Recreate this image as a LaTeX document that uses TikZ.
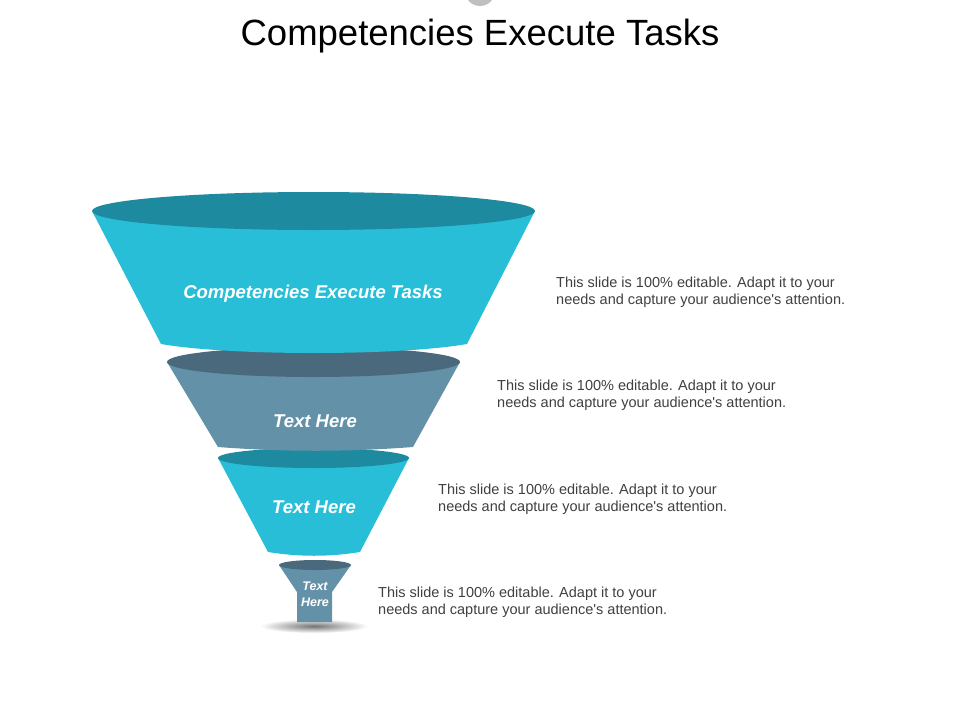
\documentclass[tikz,border=0pt]{standalone}
\usepackage{fontspec}
\setmainfont{Liberation Sans}
\definecolor{cyanbody}{HTML}{29BED8}
\definecolor{cyantop}{HTML}{1E8AA0}
\definecolor{slatebody}{HTML}{6392A8}
\definecolor{slatetop}{HTML}{4A697D}
\definecolor{desc}{HTML}{404040}
\newcommand{\desctxt}{This slide is 100\% editable. Adapt it to your\\needs and capture your audience\textquotesingle s attention.}
\begin{document}
\begin{tikzpicture}[x=1pt,y=-1pt,
  seglabel/.style={text=white,inner sep=0pt,align=center,font=\bfseries\itshape\fontsize{18.5}{22}\selectfont},
  smalllabel/.style={text=white,inner sep=0pt,align=center,font=\bfseries\itshape\fontsize{12.5}{16}\selectfont},
  desctext/.style={text=desc,inner sep=0pt,anchor=west,align=left,font=\fontsize{14.5}{17}\selectfont},
  titletext/.style={text=black,inner sep=0pt,font=\fontsize{36.5}{40}\selectfont}]
\useasboundingbox (0,0) rectangle (960,720);
\fill[white] (0,0) rectangle (960,720);
% small grey circle at top edge
\fill[black!25] (480,-9) circle (15);
% title
\node[titletext] (title) at (480,36) {Competencies Execute Tasks};
% segment 4
\shade[inner color=black!55,outer color=white] (314,626) ellipse [x radius=54, y radius=7];
\fill[slatebody] (279,565) -- (297,592) -- (297,622) -- (332,622) -- (332,592) -- (351,565) -- cycle;
\fill[slatetop] (315,565) ellipse [x radius=36, y radius=5];
% segment 3
\fill[cyanbody] (218,458) -- (268,552) .. controls (299,557) and (329,557) .. (360,552) -- (409,458) -- cycle;
\fill[cyantop] (313.5,458) ellipse [x radius=95.5, y radius=10];
% segment 2
\fill[slatebody] (167,362) -- (218,447) .. controls (283,452) and (348,452) .. (413,447) -- (460,362) -- cycle;
\fill[slatetop] (313.5,362) ellipse [x radius=146.5, y radius=15];
% segment 1
\fill[cyanbody] (92,211) -- (161,344) .. controls (230,356) and (398,356) .. (467,344) -- (535,211) -- cycle;
\fill[cyantop] (313.5,211) ellipse [x radius=221.5, y radius=19];
% labels
\node[seglabel] (l1) at (313,294) {Competencies Execute Tasks};
\node[seglabel] (l2) at (315,421) {Text Here};
\node[seglabel] (l3) at (314,507) {Text Here};
\node[smalllabel] (l4) at (315,594) {Text\\Here};
% descriptions
\node[desctext] (d1) at (556,292) {\desctxt};
\node[desctext] (d2) at (497,395) {\desctxt};
\node[desctext] (d3) at (438,499.5) {\desctxt};
\node[desctext] (d4) at (378,602) {\desctxt};
\end{tikzpicture}
\end{document}
